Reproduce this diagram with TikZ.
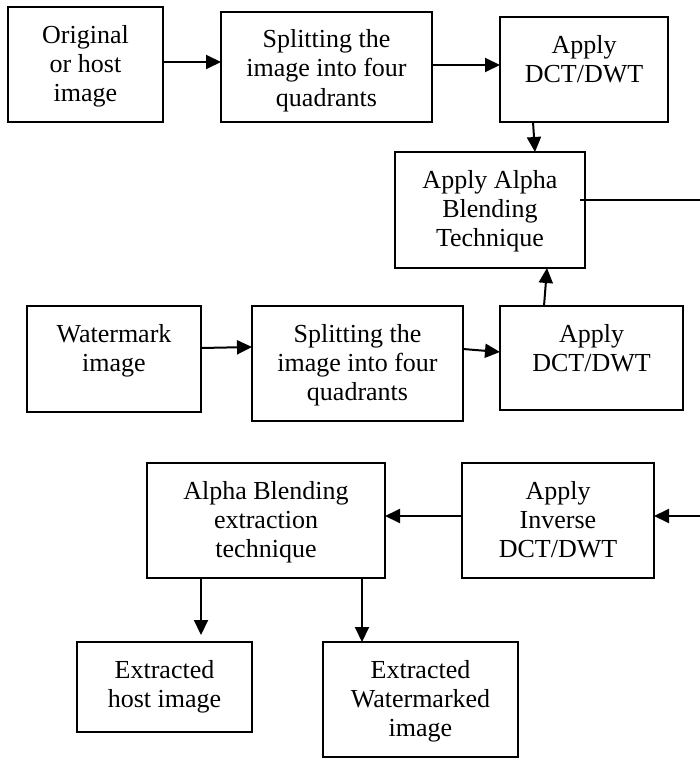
\documentclass[tikz,border=0pt]{standalone}
\usepackage{fontspec}
\setmainfont{Liberation Serif}
\usetikzlibrary{arrows.meta,calc}
\tikzset{
  blk/.style={draw, line width=2pt, inner sep=0pt, outer sep=0pt,
    anchor=north west, font=\fontsize{26}{29}\selectfont},
  flow/.style={line width=2pt, -{Triangle[length=15pt,width=14pt]}},
  plain/.style={line width=2pt},
}
% \flowbox{name}{x}{y}{width}{height}{text}: box with top-aligned, centred text
\newcommand\flowbox[6]{%
  \node[blk] (#1) at (#2,#3)
    {\parbox[c][#5pt][t]{#4pt}{\centering\rule{0pt}{36pt}#6}};}
\begin{document}
\begin{tikzpicture}[x=1pt,y=-1pt]
\useasboundingbox (0,0) rectangle (700,760);

% embedding chain
\flowbox{orig}{8}{7}{155}{115}{Original\\or host\\image}
\flowbox{split1}{221}{12}{211}{110}{Splitting the\\image into four\\quadrants}
\flowbox{apply1}{500}{17}{168}{105}{Apply\\DCT/DWT}
\flowbox{alpha}{395}{152}{190}{116}{Apply Alpha\\Blending\\Technique}
\flowbox{water}{27}{306}{174}{106}{Watermark\\image}
\flowbox{split2}{252}{306}{211}{115}{Splitting the\\image into four\\quadrants}
\flowbox{apply2}{500}{306}{183}{104}{Apply\\DCT/DWT}

% extraction chain
\flowbox{extr}{147}{463}{238}{115}{Alpha Blending\\extraction\\technique}
\flowbox{inv}{462}{463}{192}{115}{Apply\\Inverse\\DCT/DWT}
\flowbox{host}{77}{642}{175}{90}{Extracted\\host image}
\flowbox{wm}{323}{642}{195}{115}{Extracted\\Watermarked\\image}

\coordinate (outA) at (700,200);
\coordinate (inB) at (700,516);

\draw[flow] ($(orig.north east)+(0,55)$) -- ($(split1.north west)+(0,50)$);
\draw[flow] ($(split1.north east)+(0,53)$) -- ($(apply1.north west)+(0,48)$);
\draw[flow] ($(apply1.south west)+(33,0)$) -- ($(alpha.north west)+(140,0)$);
\draw[flow] ($(water.north east)+(0,42)$) -- ($(split2.north west)+(0,41)$);
\draw[flow] ($(split2.north east)+(0,43)$) -- ($(apply2.north west)+(0,46)$);
\draw[flow] ($(apply2.north west)+(44,0)$) -- ($(alpha.south west)+(152,0)$);
\draw[plain] ($(alpha.north east)+(-5,48)$) -- (outA);

\draw[flow] (inB) -- ($(inv.north east)+(0,53)$);
\draw[flow] ($(inv.north west)+(0,53)$) -- ($(extr.north east)+(0,53)$);
\draw[flow] ($(extr.south west)+(54,0)$) -- ($(host.north west)+(124,-7)$);
\draw[flow] ($(extr.south west)+(215,0)$) -- ($(wm.north west)+(39,0)$);
\end{tikzpicture}
\end{document}
